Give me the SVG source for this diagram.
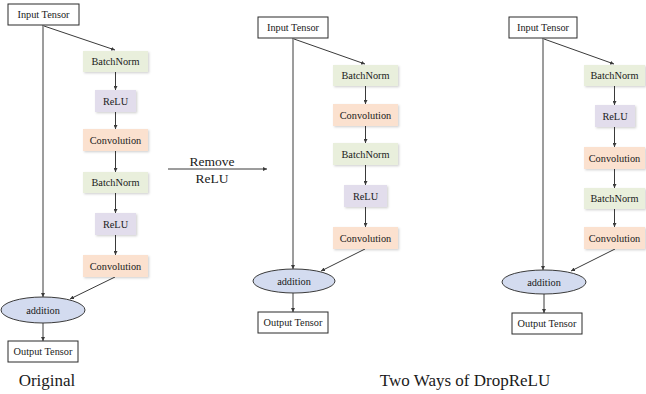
<svg xmlns="http://www.w3.org/2000/svg" width="646" height="394" viewBox="0 0 646 394">
<style>
  .lbl { font-family: "Liberation Serif", "Times New Roman", serif; font-size: 10.3px; fill: #1a1a1a; text-anchor: middle; dominant-baseline: central; }
  .cap { font-family: "Liberation Serif", "Times New Roman", serif; fill: #1a1a1a; text-anchor: middle; }
  .io { fill: #ffffff; stroke: #2b2b2b; stroke-width: 1; }
  .bn { fill: #e9efdc; filter: url(#sh); }
  .relu { fill: #e2ddec; filter: url(#sh); }
  .conv { fill: #fbe1cf; filter: url(#sh); }
  .add { fill: #d3dbef; stroke: #3a3a3a; stroke-width: 1; }
  .edge { stroke: #3a3a3a; stroke-width: 1; fill: none; marker-end: url(#ah); }
</style>
<defs>
  <marker id="ah" viewBox="0 0 6 6" refX="6" refY="3" markerWidth="4" markerHeight="4" orient="auto" markerUnits="userSpaceOnUse">
    <path d="M0,0 L6,3 L0,6 z" fill="#3a3a3a"/>
  </marker>
  <filter id="sh" x="-10%" y="-10%" width="130%" height="140%">
    <feDropShadow dx="1.2" dy="1.2" stdDeviation="0.8" flood-color="#000" flood-opacity="0.18"/>
  </filter>
</defs>
<rect width="646" height="394" fill="#ffffff"/>

<g id="connectors">
  <!-- left -->
  <path class="edge" d="M43,25 L43,297"/>
  <path class="edge" d="M44,26 L115,50"/>
  <path class="edge" d="M115.5,72 L115.5,90"/>
  <path class="edge" d="M115.5,112 L115.5,129"/>
  <path class="edge" d="M115.5,151 L115.5,172"/>
  <path class="edge" d="M115.5,193 L115.5,213"/>
  <path class="edge" d="M115.5,235 L115.5,255"/>
  <path class="edge" d="M115,277 L70,299"/>
  <path class="edge" d="M43,323 L43,341"/>
  <!-- remove relu -->
  <path class="edge" d="M168,169 L267,169"/>
  <!-- middle -->
  <path class="edge" d="M293,38 L293,269"/>
  <path class="edge" d="M294,39 L365,64"/>
  <path class="edge" d="M365.5,86 L365.5,104"/>
  <path class="edge" d="M365.5,126 L365.5,143"/>
  <path class="edge" d="M365.5,165 L365.5,185"/>
  <path class="edge" d="M365.5,207 L365.5,227"/>
  <path class="edge" d="M365,249 L321,271"/>
  <path class="edge" d="M293,293 L293,312"/>
  <!-- right -->
  <path class="edge" d="M543,38 L543,270"/>
  <path class="edge" d="M544,39 L614,64"/>
  <path class="edge" d="M614.5,86 L614.5,105"/>
  <path class="edge" d="M614.5,127 L614.5,147"/>
  <path class="edge" d="M614.5,169 L614.5,188"/>
  <path class="edge" d="M614.5,209 L614.5,227"/>
  <path class="edge" d="M615,249 L571,271"/>
  <path class="edge" d="M544,294 L544,313"/>
</g>

<!-- left column -->
<g id="l-input"><rect class="io" x="8" y="4" width="71" height="21"/><text class="lbl" x="43.5" y="14.5">Input Tensor</text></g>
<g id="l-bn1"><rect class="bn" x="83" y="51" width="65" height="21"/><text class="lbl" x="115.5" y="61.5">BatchNorm</text></g>
<g id="l-relu1"><rect class="relu" x="95" y="90" width="41" height="22"/><text class="lbl" x="115.5" y="101">ReLU</text></g>
<g id="l-conv1"><rect class="conv" x="83" y="129" width="65" height="22"/><text class="lbl" x="115.5" y="140">Convolution</text></g>
<g id="l-bn2"><rect class="bn" x="83" y="172" width="65" height="21"/><text class="lbl" x="115.5" y="182.5">BatchNorm</text></g>
<g id="l-relu2"><rect class="relu" x="95" y="213" width="41" height="22"/><text class="lbl" x="115.5" y="224">ReLU</text></g>
<g id="l-conv2"><rect class="conv" x="83" y="255" width="65" height="22"/><text class="lbl" x="115.5" y="266">Convolution</text></g>
<g id="l-add"><ellipse class="add" cx="43" cy="310" rx="42" ry="13"/><text class="lbl" x="43" y="310">addition</text></g>
<g id="l-output"><rect class="io" x="8" y="341" width="70" height="21"/><text class="lbl" x="43" y="351.5">Output Tensor</text></g>
<g id="cap-original"><text class="cap" x="47" y="386" font-size="17">Original</text></g>

<g id="remove-relu">
  <text class="cap" x="212" y="166" font-size="13.5">Remove</text>
  <text class="cap" x="212" y="183" font-size="13.5">ReLU</text>
</g>

<!-- middle column -->
<g id="m-input"><rect class="io" x="258" y="17" width="70" height="21"/><text class="lbl" x="293" y="27.5">Input Tensor</text></g>
<g id="m-bn1"><rect class="bn" x="333" y="65" width="65" height="21"/><text class="lbl" x="365.5" y="75.5">BatchNorm</text></g>
<g id="m-conv1"><rect class="conv" x="333" y="104" width="65" height="22"/><text class="lbl" x="365.5" y="115">Convolution</text></g>
<g id="m-bn2"><rect class="bn" x="333" y="143" width="65" height="22"/><text class="lbl" x="365.5" y="154">BatchNorm</text></g>
<g id="m-relu"><rect class="relu" x="344" y="185" width="43" height="22"/><text class="lbl" x="365.5" y="196">ReLU</text></g>
<g id="m-conv2"><rect class="conv" x="333" y="227" width="65" height="22"/><text class="lbl" x="365.5" y="238">Convolution</text></g>
<g id="m-add"><ellipse class="add" cx="294" cy="281" rx="41" ry="12"/><text class="lbl" x="294" y="281">addition</text></g>
<g id="m-output"><rect class="io" x="258" y="312" width="70" height="21"/><text class="lbl" x="293" y="322.5">Output Tensor</text></g>

<!-- right column -->
<g id="r-input"><rect class="io" x="509" y="17" width="68" height="21"/><text class="lbl" x="543" y="27.5">Input Tensor</text></g>
<g id="r-bn1"><rect class="bn" x="584" y="65" width="61" height="21"/><text class="lbl" x="614.5" y="75.5">BatchNorm</text></g>
<g id="r-relu"><rect class="relu" x="595" y="105" width="40" height="22"/><text class="lbl" x="615" y="116">ReLU</text></g>
<g id="r-conv1"><rect class="conv" x="584" y="147" width="61" height="22"/><text class="lbl" x="614.5" y="158">Convolution</text></g>
<g id="r-bn2"><rect class="bn" x="584" y="188" width="61" height="21"/><text class="lbl" x="614.5" y="198.5">BatchNorm</text></g>
<g id="r-conv2"><rect class="conv" x="584" y="227" width="61" height="22"/><text class="lbl" x="614.5" y="238">Convolution</text></g>
<g id="r-add"><ellipse class="add" cx="544" cy="282" rx="42" ry="12"/><text class="lbl" x="544" y="282">addition</text></g>
<g id="r-output"><rect class="io" x="512" y="313" width="70" height="21"/><text class="lbl" x="547" y="323.5">Output Tensor</text></g>

<g id="cap-two-ways"><text class="cap" x="465" y="386" font-size="17">Two Ways of DropReLU</text></g>
</svg>
